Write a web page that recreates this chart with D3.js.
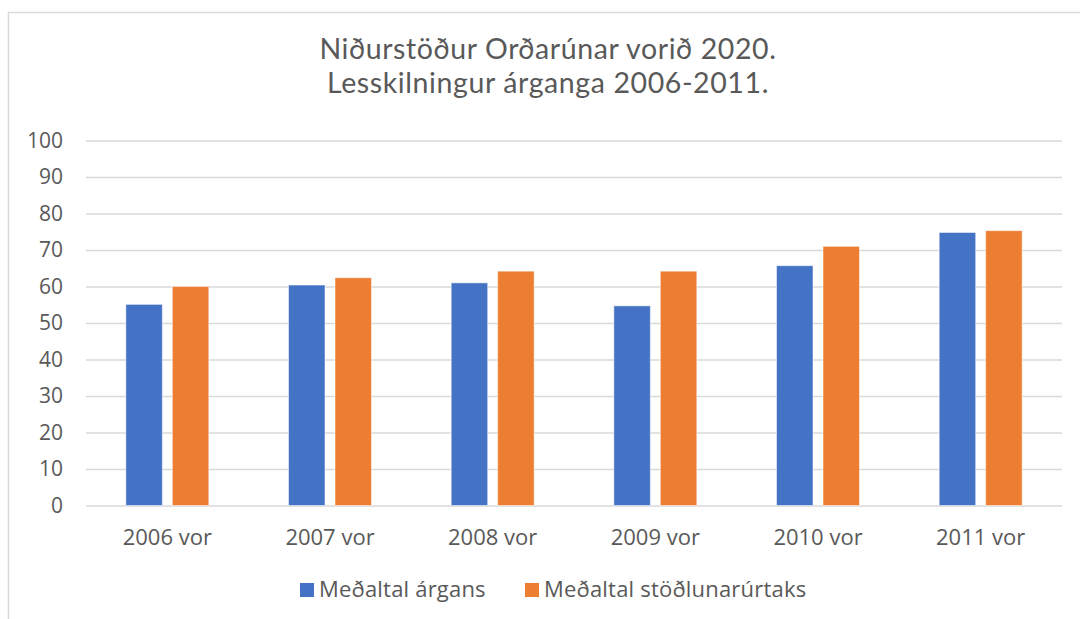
<!DOCTYPE html>
<html>
<head>
<meta charset="utf-8">
<script src="https://cdn.jsdelivr.net/npm/d3@7"></script>
<style>
  html, body { margin: 0; padding: 0; background: #fff; }
  svg { display: block; }
</style>
</head>
<body>
<script>
const categories = ["2006 vor", "2007 vor", "2008 vor", "2009 vor", "2010 vor", "2011 vor"];
const seriesNames = ["Meðaltal árgans", "Meðaltal stöðlunarúrtaks"];
const argangur = [55.1, 60.4, 61.0, 54.7, 65.7, 74.8];
const stodlun = [60.0, 62.4, 64.2, 64.2, 71.0, 75.3];
const yTicks = [0, 10, 20, 30, 40, 50, 60, 70, 80, 90, 100];
const titleLines = ["Niðurstöður Orðarúnar vorið 2020.", "Lesskilningur árganga 2006-2011."];

const colors = ["#4472C4", "#ED7D31"];
const width = 1080, height = 619;
const plot = { left: 86, right: 1062, top: 140.5, bottom: 505.5 };

const svg = d3.select("body").append("svg")
  .attr("width", width)
  .attr("height", height);

// chart area border
svg.append("rect")
  .attr("x", 8.5).attr("y", 12.5)
  .attr("width", width + 20).attr("height", height + 20)
  .attr("fill", "#fff")
  .attr("stroke", "#d9d9d9")
  .attr("stroke-width", 1.5);

// title
svg.append("g")
  .selectAll("text")
  .data(titleLines)
  .enter().append("text")
  .attr("x", 548)
  .attr("y", (d, i) => 58.5 + i * 34.7)
  .attr("text-anchor", "middle")
  .style("font-family", "Lato, sans-serif")
  .style("font-size", "28.5px")
  .style("letter-spacing", "0.6px")
  .style("fill", "#595959")
  .text(d => d);

const x = d3.scaleBand()
  .domain(categories)
  .range([plot.left, plot.right])
  .paddingInner(0.49)
  .paddingOuter(0.245);

const xInner = d3.scaleBand()
  .domain(seriesNames)
  .range([0, x.bandwidth()])
  .paddingInner(0.215);

const y = d3.scaleLinear()
  .domain([0, 100])
  .range([plot.bottom, plot.top]);

// gridlines + y labels
const yAxis = svg.append("g")
  .attr("transform", "translate(" + plot.left + ",0)")
  .call(d3.axisLeft(y).tickValues(yTicks).tickSize(-(plot.right - plot.left)).tickPadding(23));

yAxis.select(".domain").remove();
yAxis.selectAll(".tick line")
  .attr("stroke", "#d9d9d9")
  .attr("stroke-width", 1.5);
yAxis.selectAll(".tick text")
  .style("font-family", "'Open Sans', sans-serif")
  .style("font-size", "21px")
  .style("fill", "#595959");

// bars
const rows = categories.map((c, i) => ({ cat: c, values: [argangur[i], stodlun[i]] }));

svg.append("g")
  .selectAll("g")
  .data(rows)
  .enter().append("g")
  .attr("transform", d => "translate(" + x(d.cat) + ",0)")
  .selectAll("rect")
  .data(d => d.values.map((v, j) => ({ name: seriesNames[j], value: v, j: j })))
  .enter().append("rect")
  .attr("x", d => xInner(d.name))
  .attr("y", d => y(d.value))
  .attr("width", xInner.bandwidth())
  .attr("height", d => y(0) - y(d.value))
  .attr("fill", d => colors[d.j])
  .attr("stroke", "#fff")
  .attr("stroke-opacity", 0.5)
  .attr("stroke-width", 1);

// x labels
const xAxis = svg.append("g")
  .attr("transform", "translate(0," + plot.bottom + ")")
  .call(d3.axisBottom(x).tickSize(0).tickPadding(24));

xAxis.select(".domain").remove();
xAxis.selectAll(".tick text")
  .style("font-family", "'Open Sans', sans-serif")
  .style("font-size", "22px")
  .style("fill", "#595959");

// legend
const legendX = [300, 525];
const legend = svg.append("g")
  .selectAll("g")
  .data(seriesNames)
  .enter().append("g")
  .attr("transform", (d, i) => "translate(" + legendX[i] + ",583)");

legend.append("rect")
  .attr("width", 14)
  .attr("height", 14)
  .attr("fill", (d, i) => colors[i]);

legend.append("text")
  .attr("x", 19)
  .attr("y", 13.5)
  .style("font-family", "'Open Sans', sans-serif")
  .style("font-size", "22px")
  .style("letter-spacing", "0.2px")
  .style("fill", "#595959")
  .text(d => d);
</script>
</body>
</html>
